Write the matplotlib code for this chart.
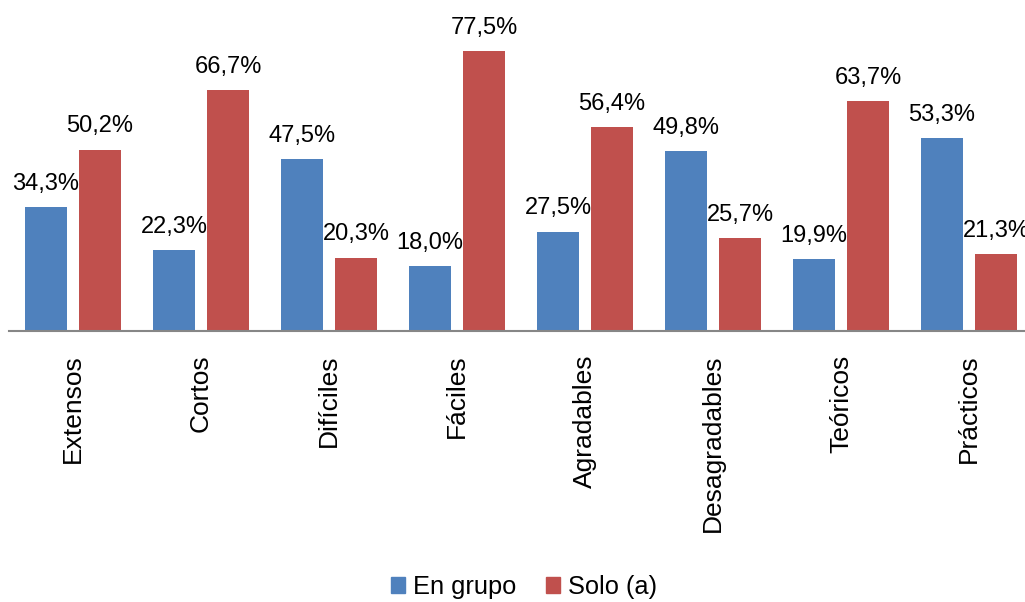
import matplotlib.pyplot as plt
from matplotlib.patches import Patch
import numpy as np

categorias = ["Extensos", "Cortos", "Difíciles", "Fáciles",
              "Agradables", "Desagradables", "Teóricos", "Prácticos"]
en_grupo = [34.3, 22.3, 47.5, 18.0, 27.5, 49.8, 19.9, 53.3]
solo = [50.2, 66.7, 20.3, 77.5, 56.4, 25.7, 63.7, 21.3]

azul = "#4F81BD"
rojo = "#C0504D"

plt.rcParams['font.family'] = ['Liberation Sans', 'DejaVu Sans']

fig = plt.figure(figsize=(10.25, 6.02), dpi=100)
ax = fig.add_axes([9 / 1025, 271 / 602, 1024 / 1025, 289 / 602])

x = np.arange(len(categorias))
ancho = 0.328
desp = 0.211

b1 = ax.bar(x - desp, en_grupo, ancho, color=azul)
b2 = ax.bar(x + desp, solo, ancho, color=rojo)

def etiquetas(barras, valores):
    for barra, v in zip(barras, valores):
        ax.annotate(f"{v:.1f}%".replace('.', ','),
                    (barra.get_x() + barra.get_width() / 2, v),
                    xytext=(0, 12.5), textcoords='offset points',
                    ha='center', va='baseline', fontsize=17)

etiquetas(b1, en_grupo)
etiquetas(b2, solo)

ax.set_xlim(-0.5, 7.5)
ax.set_ylim(0, 80)
ax.set_xticks(x)
ax.set_xticklabels(categorias, rotation=90, fontsize=19)
ax.tick_params(axis='x', length=0, pad=17)
ax.set_yticks([])

for lado in ['top', 'right', 'left']:
    ax.spines[lado].set_visible(False)
ax.spines['bottom'].set_color('#868686')
ax.spines['bottom'].set_linewidth(1.5)

handles = [Patch(color=azul), Patch(color=rojo)]
fig.legend(handles, ["En grupo", "Solo (a)"], loc='center',
           bbox_to_anchor=(524 / 1025, 1 - 587 / 602), ncol=2, frameon=False,
           fontsize=18.3, handlelength=0.55, handleheight=0.55,
           handletextpad=0.3, columnspacing=1.2)

fig.savefig("out.png", dpi=100)
